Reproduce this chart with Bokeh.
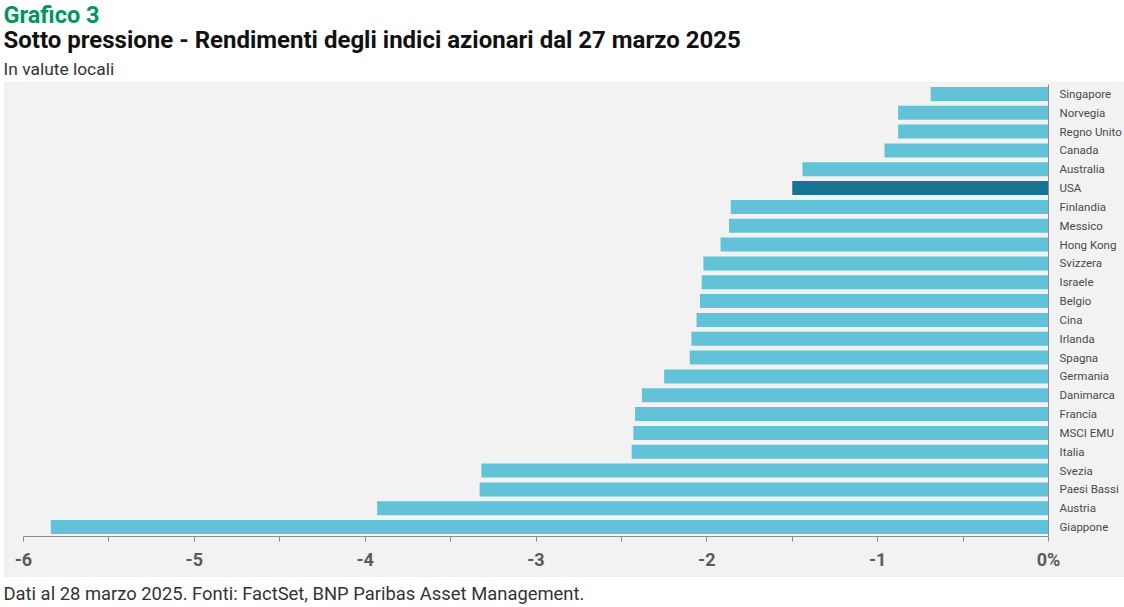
from bokeh.plotting import figure
from bokeh.models import Label, FactorRange, Range1d, FixedTicker, ColumnDataSource
from bokeh.layouts import column
from bokeh.embed import file_html
from bokeh.resources import INLINE

# ---- data ----
countries = ["Singapore", "Norvegia", "Regno Unito", "Canada", "Australia", "USA",
             "Finlandia", "Messico", "Hong Kong", "Svizzera", "Israele", "Belgio",
             "Cina", "Irlanda", "Spagna", "Germania", "Danimarca", "Francia",
             "MSCI EMU", "Italia", "Svezia", "Paesi Bassi", "Austria", "Giappone"]
returns = [-0.69, -0.88, -0.88, -0.96, -1.44, -1.50,
           -1.86, -1.87, -1.92, -2.02, -2.03, -2.04,
           -2.06, -2.09, -2.10, -2.25, -2.38, -2.42,
           -2.43, -2.44, -3.32, -3.33, -3.93, -5.84]
highlight = "USA"
x_ticks = [-6, -5, -4, -3, -2, -1, 0]
x_tick_labels = ["-6", "-5", "-4", "-3", "-2", "-1", "0%"]
x_minor_ticks = [-5.5, -4.5, -3.5, -2.5, -1.5, -0.5]

title_kicker = "Grafico 3"
title_main = "Sotto pressione - Rendimenti degli indici azionari dal 27 marzo 2025"
subtitle = "In valute locali"
footnote = "Dati al 28 marzo 2025. Fonti: FactSet, BNP Paribas Asset Management."

FONT = "Roboto"
W = 1124
GRAY_BG = "#f2f2f2"
BAR = "#62c3d8"
BAR_HI = "#177492"
AXIS = "#8c8c8c"
TX = 3


def text_strip(height):
    f = figure(width=W, height=height, x_range=Range1d(0, 1), y_range=Range1d(0, 1),
               toolbar_location=None, output_backend="svg",
               x_axis_location=None, y_axis_location=None,
               min_border=0, min_border_left=0, min_border_right=0,
               min_border_top=0, min_border_bottom=0,
               outline_line_color=None)
    f.frame_align = False
    f.grid.visible = False
    return f


# ---- header ----
header = text_strip(81)
header.add_layout(Label(x=TX, y=67, x_units="screen", y_units="screen", text=title_kicker,
                        text_font=FONT, text_font_style="bold", text_font_size="23.5px",
                        text_color="#00965e", text_baseline="middle"))
header.add_layout(Label(x=TX, y=42, x_units="screen", y_units="screen", text=title_main,
                        text_font=FONT, text_font_style="bold", text_font_size="24px",
                        text_color="#111111", text_baseline="middle"))
header.add_layout(Label(x=TX, y=13, x_units="screen", y_units="screen", text=subtitle,
                        text_font=FONT, text_font_size="17.4px",
                        text_color="#333333", text_baseline="middle"))

# ---- main chart ----
colors = [BAR_HI if c == highlight else BAR for c in countries]
src = ColumnDataSource(dict(country=countries, value=returns, color=colors))

p = figure(width=W - 3, height=496, y_range=FactorRange(factors=countries[::-1]),
           x_range=Range1d(x_ticks[0], x_ticks[-1]),
           x_axis_location="below", y_axis_location="right",
           toolbar_location=None, output_backend="svg",
           min_border_left=20, min_border_right=75, min_border_top=3, min_border_bottom=41)
p.frame_align = False
p.margin = (0, 0, 0, 3)
p.hbar(y="country", left="value", right=0, height=0.74, source=src,
       fill_color="color", line_color=None)

p.background_fill_color = GRAY_BG
p.border_fill_color = GRAY_BG
p.outline_line_color = None
p.grid.visible = False

xa = p.xaxis[0]
xa.ticker = FixedTicker(ticks=x_ticks, minor_ticks=x_minor_ticks)
xa.major_label_overrides = {t: l for t, l in zip(x_ticks, x_tick_labels)}
xa.axis_line_color = AXIS
xa.major_tick_line_color = AXIS
xa.minor_tick_line_color = AXIS
xa.major_tick_in = 0
xa.major_tick_out = 5
xa.minor_tick_in = 0
xa.minor_tick_out = 5
xa.major_label_standoff = 7
xa.major_label_text_font = FONT
xa.major_label_text_font_size = "18px"
xa.major_label_text_font_style = "bold"
xa.major_label_text_color = "#5a5a5a"

ya = p.yaxis[0]
ya.axis_line_color = AXIS
ya.major_tick_in = 0
ya.major_tick_out = 0
ya.minor_tick_line_color = None
ya.major_label_standoff = 11
ya.major_label_text_font = FONT
ya.major_label_text_font_size = "11.5px"
ya.major_label_text_color = "#4a4a4a"

# ---- footer ----
footer = text_strip(30)
footer.add_layout(Label(x=TX, y=14, x_units="screen", y_units="screen", text=footnote,
                        text_font=FONT, text_font_size="18.4px",
                        text_color="#333333", text_baseline="middle"))

layout = column(header, p, footer, spacing=0)
open("out.html", "w").write(file_html(layout, INLINE))
